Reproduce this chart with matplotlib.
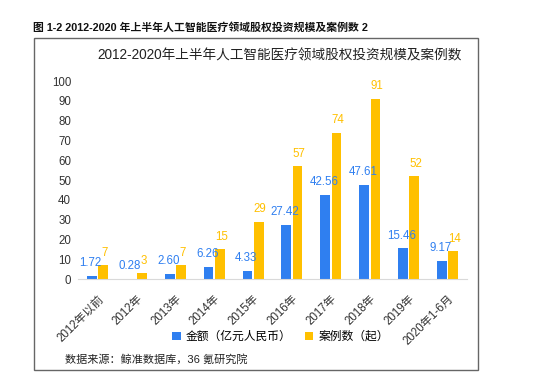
import matplotlib.pyplot as plt
from matplotlib.patches import Rectangle
import numpy as np

plt.rcParams['font.family'] = ['Liberation Sans', 'Noto Sans CJK SC', 'DejaVu Sans']

# --- data ---
categories = ['2012年以前', '2012年', '2013年', '2014年', '2015年',
              '2016年', '2017年', '2018年', '2019年', '2020年1-6月']
amount = [1.72, 0.28, 2.60, 6.26, 4.33, 27.42, 42.56, 47.61, 15.46, 9.17]
amount_labels = ['1.72', '0.28', '2.60', '6.26', '4.33',
                 '27.42', '42.56', '47.61', '15.46', '9.17']
cases = [7, 3, 7, 15, 29, 57, 74, 91, 52, 14]

blue = '#2F7FF0'
yellow = '#FFC000'

fig = plt.figure(figsize=(5.5, 3.86), dpi=100)
ax = fig.add_axes([0.142, 0.277, 0.707, 0.513])

x = np.arange(len(categories))
w = 0.25
off = 0.145
b1 = ax.bar(x - off, amount, w, color=blue, label='金额（亿元人民币）')
b2 = ax.bar(x + off, cases, w, color=yellow, label='案例数（起）')

for xi, v, s in zip(x, amount, amount_labels):
    ax.annotate(s, (xi - off, v), xytext=(-1, 9), textcoords='offset points',
                ha='center', va='center', fontsize=8.3, color=blue)
for xi, v in zip(x, cases):
    ax.annotate(str(v), (xi + off, v), xytext=(1, 9), textcoords='offset points',
                ha='center', va='center', fontsize=8.3, color=yellow)

ax.set_xlim(-0.5, len(categories) - 0.5)
ax.set_ylim(0, 100)
ax.set_yticks(range(0, 101, 10))
ax.set_xticks(x)
ax.set_xticklabels(categories, rotation=45, ha='right', rotation_mode='anchor')
ax.tick_params(axis='x', length=0, pad=10, labelsize=8.3, colors='#333333')
ax.tick_params(axis='y', length=0, pad=5, labelsize=8.3, colors='#333333')
for side in ['top', 'right', 'left']:
    ax.spines[side].set_visible(False)
ax.spines['bottom'].set_color('#D9D9D9')

fig.legend(handles=[b1, b2], loc='center', bbox_to_anchor=(0.51, 0.127),
           ncol=2, frameon=False, fontsize=8.5, handlelength=0.7, handleheight=0.7,
           handletextpad=0.4, columnspacing=1.2)

fig.text(0.508, 0.857, '2012-2020年上半年人工智能医疗领域股权投资规模及案例数',
         ha='center', va='center', fontsize=9.8, color='#222222')
fig.text(0.060, 0.928, '图 1-2 2012-2020 年上半年人工智能医疗领域股权投资规模及案例数 2',
         ha='left', va='center', fontsize=7.8, fontweight='bold', color='#111111')
fig.text(0.118, 0.068, '数据来源：鲸准数据库，36 氪研究院',
         ha='left', va='center', fontsize=8, color='#222222')

fig.patches.append(Rectangle((0.062, 0.041), 0.807, 0.861, transform=fig.transFigure,
                             fill=False, edgecolor='#666666', linewidth=1.0))

fig.savefig('out.png', dpi=100)
